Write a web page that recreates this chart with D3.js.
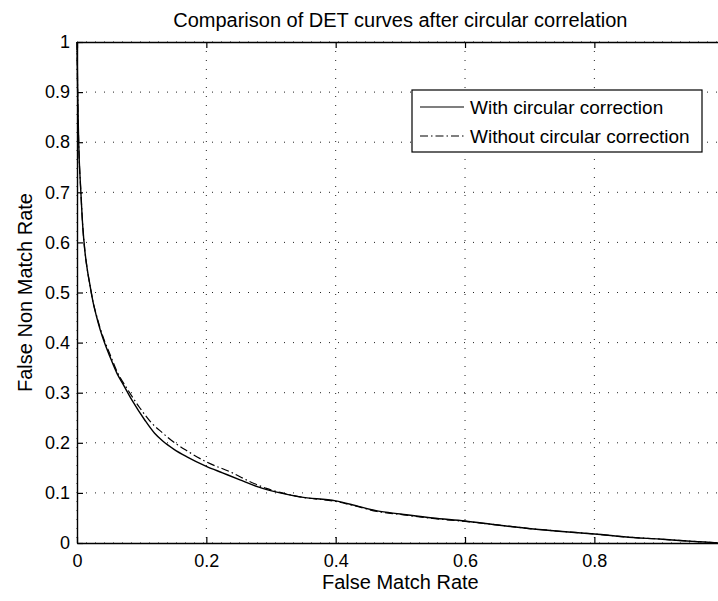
<!DOCTYPE html>
<html>
<head>
<meta charset="utf-8">
<script src="https://cdn.jsdelivr.net/npm/d3@7"></script>
<style>
  body { margin: 0; background: #fff; }
  svg { display: block; font-family: "Liberation Sans", Arial, sans-serif; }
</style>
</head>
<body>
<svg id="chart"></svg>
<script>
// Chart values
var titleText = 'Comparison of DET curves after circular correlation';
var xLabel = 'False Match Rate';
var yLabel = 'False Non Match Rate';
var seriesNames = ['With circular correction', 'Without circular correction'];

var xTicks = [0, 0.2, 0.4, 0.6, 0.8];
var xTickLabels = ['0', '0.2', '0.4', '0.6', '0.8'];
var yTicks = [0, 0.1, 0.2, 0.3, 0.4, 0.5, 0.6, 0.7, 0.8, 0.9, 1];
var yTickLabels = ['0', '0.1', '0.2', '0.3', '0.4', '0.5', '0.6', '0.7', '0.8', '0.9', '1'];

// With circular correction (solid)
var fmrWith = [0, 0.0005, 0.001, 0.0026, 0.006, 0.009, 0.012, 0.016, 0.02, 0.025, 0.03, 0.036, 0.043, 0.05,
  0.062, 0.072, 0.085, 0.105, 0.12, 0.133, 0.15, 0.17, 0.2, 0.225, 0.252, 0.28, 0.314, 0.345, 0.4, 0.43,
  0.464, 0.5, 0.55, 0.6, 0.65, 0.706, 0.75, 0.8, 0.86, 0.9, 0.943, 0.97, 0.995];
var fnmrWith = [1, 0.95, 0.9, 0.8, 0.7, 0.63, 0.585, 0.545, 0.515, 0.48, 0.453, 0.425, 0.398, 0.375,
  0.338, 0.315, 0.285, 0.245, 0.219, 0.203, 0.187, 0.172, 0.153, 0.14, 0.126, 0.112, 0.1, 0.092, 0.084, 0.075,
  0.064, 0.058, 0.05, 0.044, 0.036, 0.028, 0.023, 0.018, 0.011, 0.008, 0.004, 0.002, 0];

// Without circular correction (dash-dot)
var fmrWithout = [0, 0.0005, 0.001, 0.0026, 0.006, 0.009, 0.012, 0.016, 0.02, 0.025, 0.03, 0.036, 0.043, 0.05,
  0.062, 0.078, 0.097, 0.115, 0.133, 0.141, 0.17, 0.2, 0.242, 0.265, 0.293, 0.314, 0.345, 0.4, 0.43,
  0.464, 0.5, 0.55, 0.6, 0.65, 0.706, 0.75, 0.8, 0.86, 0.9, 0.943, 0.97, 0.995];
var fnmrWithout = [1, 0.95, 0.9, 0.8, 0.7, 0.63, 0.585, 0.545, 0.515, 0.48, 0.455, 0.428, 0.402, 0.38,
  0.342, 0.307, 0.27, 0.24, 0.219, 0.21, 0.184, 0.162, 0.139, 0.124, 0.109, 0.101, 0.092, 0.083, 0.074,
  0.063, 0.057, 0.049, 0.043, 0.036, 0.028, 0.023, 0.018, 0.011, 0.008, 0.004, 0.002, 0];

// Setting up the chart area
var canvasWidth = 718;
var canvasHeight = 601;
var margin = { top: 42, left: 77, bottom: 58 };
var plotWidth = 646.7;   // width of x in [0,1]; right part runs off the page
var plotHeight = canvasHeight - margin.top - margin.bottom;

var svg = d3.select('#chart')
  .attr('width', canvasWidth)
  .attr('height', canvasHeight);

var xScale = d3.scaleLinear().domain([0, 1]).range([0, plotWidth]);
var yScale = d3.scaleLinear().domain([0, 1]).range([plotHeight, 0]);

var g = svg.append('g')
  .attr('transform', 'translate(' + margin.left + ',' + margin.top + ')');

// dotted grid
g.append('g').selectAll('line')
  .data(xTicks.concat([1]))
  .enter().append('line')
  .attr('x1', function(d) { return xScale(d); })
  .attr('x2', function(d) { return xScale(d); })
  .attr('y1', 0).attr('y2', plotHeight)
  .attr('stroke', '#222').attr('stroke-width', 1)
  .attr('stroke-dasharray', '1,8');
g.append('g').selectAll('line')
  .data(yTicks)
  .enter().append('line')
  .attr('x1', 0).attr('x2', plotWidth)
  .attr('y1', function(d) { return yScale(d); })
  .attr('y2', function(d) { return yScale(d); })
  .attr('stroke', '#222').attr('stroke-width', 1)
  .attr('stroke-dasharray', '1,8');

// curves
var line = d3.line()
  .curve(d3.curveMonotoneX)
  .x(function(d) { return xScale(d[0]); })
  .y(function(d) { return yScale(d[1]); });

var withPts = fmrWith.map(function(v, i) { return [v, fnmrWith[i]]; });
var withoutPts = fmrWithout.map(function(v, i) { return [v, fnmrWithout[i]]; });

g.append('path')
  .datum(withoutPts)
  .attr('d', line)
  .attr('fill', 'none')
  .attr('stroke', '#000')
  .attr('stroke-width', 1.2)
  .attr('stroke-dasharray', '8,3,1.5,3');
g.append('path')
  .datum(withPts)
  .attr('d', line)
  .attr('fill', 'none')
  .attr('stroke', '#000')
  .attr('stroke-width', 1.4);

// axes with inward ticks (MATLAB style)
var xAxis = d3.axisBottom(xScale).tickValues(xTicks)
  .tickFormat(function(d, i) { return xTickLabels[i]; })
  .tickSizeInner(-6).tickSizeOuter(0).tickPadding(11);
var yAxis = d3.axisLeft(yScale).tickValues(yTicks)
  .tickFormat(function(d, i) { return yTickLabels[i]; })
  .tickSizeInner(-6).tickSizeOuter(0).tickPadding(7);
var xTop = d3.axisTop(xScale).tickValues(xTicks).tickFormat('')
  .tickSizeInner(-6).tickSizeOuter(0);

var gx = g.append('g')
  .attr('transform', 'translate(0,' + plotHeight + ')')
  .call(xAxis);
var gy = g.append('g').call(yAxis);
var gt = g.append('g').call(xTop);

[gx, gy, gt].forEach(function(a) {
  a.select('.domain').attr('stroke', '#000').attr('stroke-width', 1.4);
  a.selectAll('.tick line').attr('stroke', '#000').attr('stroke-width', 1.2);
  a.selectAll('.tick text')
    .attr('fill', '#000')
    .attr('font-size', 18)
    .attr('font-family', '"Liberation Sans", Arial, sans-serif');
});

// title and axis labels
svg.append('text')
  .attr('x', margin.left + xScale(0.5))
  .attr('y', 27)
  .attr('text-anchor', 'middle')
  .attr('font-size', 20)
  .text(titleText);

svg.append('text')
  .attr('x', margin.left + xScale(0.5))
  .attr('y', 589)
  .attr('text-anchor', 'middle')
  .attr('font-size', 20)
  .text(xLabel);

svg.append('text')
  .attr('transform', 'translate(32,' + (margin.top + plotHeight / 2) + ') rotate(-90)')
  .attr('text-anchor', 'middle')
  .attr('font-size', 20)
  .text(yLabel);

// legend
var legend = svg.append('g').attr('transform', 'translate(412,90)');
legend.append('rect')
  .attr('x', 0).attr('y', 0)
  .attr('width', 290).attr('height', 62)
  .attr('fill', '#fff')
  .attr('stroke', '#000')
  .attr('stroke-width', 1.2);

var legendDash = [null, '8,3,1.5,3'];
var legendRows = legend.selectAll('g.row')
  .data(seriesNames)
  .enter().append('g')
  .attr('transform', function(d, i) { return 'translate(0,' + (17 + i * 29) + ')'; });
legendRows.append('line')
  .attr('x1', 8).attr('x2', 52)
  .attr('y1', 0).attr('y2', 0)
  .attr('stroke', '#000')
  .attr('stroke-width', 1.2)
  .attr('stroke-dasharray', function(d, i) { return legendDash[i]; });
legendRows.append('text')
  .attr('x', 58)
  .attr('y', 6.5)
  .attr('font-size', 19)
  .text(function(d) { return d; });
</script>
</body>
</html>
